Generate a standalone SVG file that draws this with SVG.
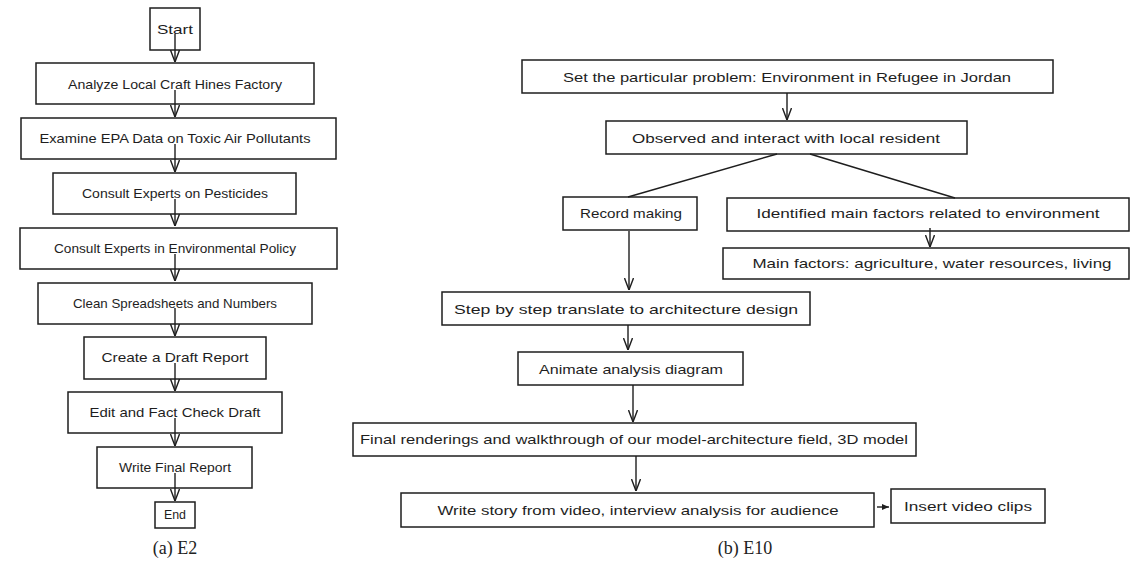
<svg xmlns="http://www.w3.org/2000/svg" width="1139" height="578" viewBox="0 0 1139 578">
<style>
.box{fill:#fff;stroke:#1e1e1e;stroke-width:1.5}
.t{font-family:"Liberation Sans","DejaVu Sans",sans-serif;font-size:13px;fill:#1e1e1e;text-anchor:middle;dominant-baseline:central}
.c{stroke:#1e1e1e;stroke-width:1.4;fill:none}
.cap{font-family:"Liberation Serif","DejaVu Serif",serif;font-size:18px;fill:#222;text-anchor:middle}
</style>
<defs>
<marker id="v" viewBox="0 0 12 10" refX="12" refY="5" markerWidth="12" markerHeight="10" markerUnits="userSpaceOnUse" orient="auto">
<path d="M0,0.5 L12,5 L0,9.5" fill="none" stroke="#1e1e1e" stroke-width="1.4"/>
</marker>
<marker id="vs" viewBox="0 0 8 8" refX="7" refY="4" markerWidth="8" markerHeight="8" markerUnits="userSpaceOnUse" orient="auto">
<path d="M0,1 L7,4 L0,7 Z" fill="#1e1e1e"/>
</marker>
</defs>
<g id="nodes-left">
<g id="start"><rect class="box" x="150" y="8" width="50" height="42"/><text class="t" x="175" y="29" textLength="36" lengthAdjust="spacingAndGlyphs">Start</text></g>
<g id="analyze"><rect class="box" x="36" y="63" width="278" height="41"/><text class="t" x="175" y="84" textLength="214" lengthAdjust="spacingAndGlyphs">Analyze Local Craft Hines Factory</text></g>
<g id="examine"><rect class="box" x="21" y="118" width="315" height="41"/><text class="t" x="175" y="138" textLength="271" lengthAdjust="spacingAndGlyphs">Examine EPA Data on Toxic Air Pollutants</text></g>
<g id="pesticides"><rect class="box" x="53" y="173" width="243" height="41"/><text class="t" x="175" y="193" textLength="186" lengthAdjust="spacingAndGlyphs">Consult Experts on Pesticides</text></g>
<g id="policy"><rect class="box" x="20" y="228" width="317" height="41"/><text class="t" x="175" y="248" textLength="242" lengthAdjust="spacingAndGlyphs">Consult Experts in Environmental Policy</text></g>
<g id="clean"><rect class="box" x="38" y="283" width="274" height="41"/><text class="t" x="175" y="303" textLength="204" lengthAdjust="spacingAndGlyphs">Clean Spreadsheets and Numbers</text></g>
<g id="draft"><rect class="box" x="84" y="337" width="182" height="42"/><text class="t" x="175" y="357" textLength="147" lengthAdjust="spacingAndGlyphs">Create a Draft Report</text></g>
<g id="edit"><rect class="box" x="68" y="392" width="214" height="41"/><text class="t" x="175" y="412" textLength="171" lengthAdjust="spacingAndGlyphs">Edit and Fact Check Draft</text></g>
<g id="final"><rect class="box" x="97" y="447" width="155" height="41"/><text class="t" x="175" y="467" textLength="112" lengthAdjust="spacingAndGlyphs">Write Final Report</text></g>
<g id="end"><rect class="box" x="155" y="502" width="40" height="26"/><text class="t" x="175" y="514" font-size="11" textLength="22" lengthAdjust="spacingAndGlyphs">End</text></g>
</g>
<g id="nodes-right">
<g id="set"><rect class="box" x="522" y="60" width="531" height="33"/><text class="t" x="787" y="77" textLength="448" lengthAdjust="spacingAndGlyphs">Set the particular problem: Environment in Refugee in Jordan</text></g>
<g id="observed"><rect class="box" x="606" y="121" width="361" height="33"/><text class="t" x="786" y="138" textLength="308" lengthAdjust="spacingAndGlyphs">Observed and interact with local resident</text></g>
<g id="record"><rect class="box" x="563" y="197" width="134" height="33"/><text class="t" x="631" y="213" textLength="102" lengthAdjust="spacingAndGlyphs">Record making</text></g>
<g id="identified"><rect class="box" x="727" y="198" width="402" height="33"/><text class="t" x="928" y="213" textLength="343" lengthAdjust="spacingAndGlyphs">Identified main factors related to environment</text></g>
<g id="mainfactors"><rect class="box" x="723" y="248" width="406" height="31"/><text class="t" x="932" y="263" textLength="359" lengthAdjust="spacingAndGlyphs">Main factors: agriculture, water resources, living</text></g>
<g id="step"><rect class="box" x="442" y="292" width="368" height="33"/><text class="t" x="626" y="309" textLength="344" lengthAdjust="spacingAndGlyphs">Step by step translate to architecture design</text></g>
<g id="animate"><rect class="box" x="518" y="352" width="225" height="33"/><text class="t" x="631" y="369" textLength="184" lengthAdjust="spacingAndGlyphs">Animate analysis diagram</text></g>
<g id="renderings"><rect class="box" x="353" y="423" width="563" height="33"/><text class="t" x="634" y="439" textLength="548" lengthAdjust="spacingAndGlyphs">Final renderings and walkthrough of our model-architecture field, 3D model</text></g>
<g id="story"><rect class="box" x="401" y="493" width="473" height="34"/><text class="t" x="638" y="510" textLength="401" lengthAdjust="spacingAndGlyphs">Write story from video, interview analysis for audience</text></g>
<g id="insert"><rect class="box" x="891" y="489" width="154" height="34"/><text class="t" x="968" y="506" textLength="128" lengthAdjust="spacingAndGlyphs">Insert video clips</text></g>
</g>
<g id="connectors">
<path class="c" d="M175,34 L175,62" marker-end="url(#v)"/>
<path class="c" d="M175,90 L175,117" marker-end="url(#v)"/>
<path class="c" d="M175,144 L175,172" marker-end="url(#v)"/>
<path class="c" d="M175,199 L175,226" marker-end="url(#v)"/>
<path class="c" d="M175,254 L175,281" marker-end="url(#v)"/>
<path class="c" d="M175,308 L175,336" marker-end="url(#v)"/>
<path class="c" d="M175,363 L175,391" marker-end="url(#v)"/>
<path class="c" d="M175,418 L175,446" marker-end="url(#v)"/>
<path class="c" d="M175,473 L175,501" marker-end="url(#v)"/>
<path class="c" d="M787,93 L787,120" marker-end="url(#v)"/>
<path class="c" d="M777,154 L628,197" stroke-width="2"/>
<path class="c" d="M810,154 L955,198" stroke-width="2.6"/>
<path class="c" d="M930,228 L930,247" marker-end="url(#v)"/>
<path class="c" d="M629,231 L629,290" stroke-width="2" marker-end="url(#v)"/>
<path class="c" d="M628,325 L628,350" marker-end="url(#v)"/>
<path class="c" d="M633,385 L633,422" marker-end="url(#v)"/>
<path class="c" d="M636,456 L636,491" marker-end="url(#v)"/>
<path class="c" d="M877,507 L889,507" stroke-width="1.2" marker-end="url(#vs)"/>
</g>
<text class="cap" x="175" y="554">(a) E2</text>
<text class="cap" x="745" y="554">(b) E10</text>
</svg>
